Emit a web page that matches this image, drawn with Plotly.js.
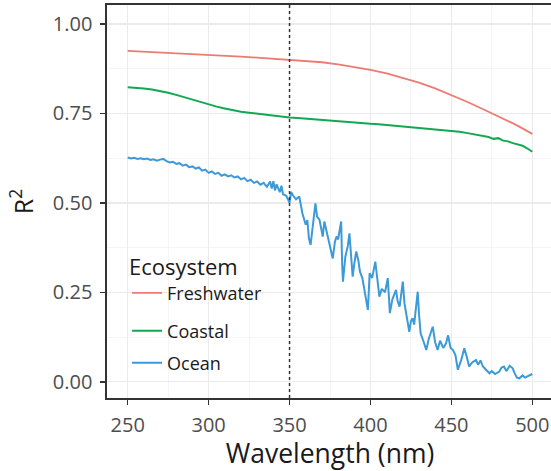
<!DOCTYPE html>
<html>
<head>
<meta charset="utf-8">
<script src="https://cdn.plot.ly/plotly-3.0.1.min.js"></script>
<style>
html,body{margin:0;padding:0;overflow:hidden;background:#fff;}
#chart{width:560px;height:471px;}
</style>
</head>
<body>
<div id="chart"></div>
<script>
// Freshwater (smooth)
const freshWl = [250,260,270,280,290,300,310,320,330,340,350,360,370,380,390,400,410,420,430,440,450,460,470,480,490,500];
const freshR2 = [0.925,0.923,0.921,0.919,0.917,0.915,0.912,0.909,0.906,0.903,0.899,0.896,0.893,0.887,0.880,0.872,0.862,0.850,0.836,0.820,0.802,0.782,0.761,0.740,0.718,0.693];

// Coastal
const coastWl = [250,255,260,265,270,275,280,285,290,295,300,305,310,315,320,325,330,335,340,345,350,355,360,365,370,375,380,385,390,395,400,405,410,415,420,425,430,435,440,445,450,455,460,465,470,473,476,479,482,485,488,491,494,497,500];
const coastR2 = [0.823,0.822,0.820,0.817,0.813,0.808,0.802,0.795,0.788,0.781,0.775,0.769,0.764,0.759,0.755,0.752,0.749,0.746,0.744,0.741,0.739,0.737,0.735,0.734,0.732,0.730,0.728,0.727,0.725,0.723,0.721,0.720,0.718,0.716,0.715,0.713,0.711,0.709,0.707,0.705,0.702,0.699,0.695,0.691,0.686,0.684,0.679,0.681,0.674,0.672,0.667,0.663,0.660,0.652,0.643];

// Ocean (noisy)
const oceanWl = [250,252,254,256,258,260,262,264,266,268,270,272,274,276,278,280,282,284,286,288,290,292,294,296,298,300,302,304,306,308,310,312,314,316,318,320,322,324,326,328,330,332,334,336,338,339,340,341,342,344,345,346,348,349,350,351,352,354,356,358,360,361,362,363,364,366,367,368.5,369.5,370.5,371.5,373,374.7,376,376.7,378,379,380,381.9,382.5,383,384.5,386,387,388,389,390,391.2,392.5,393.5,395,396.5,397.5,398.4,399.5,401,403,404.5,405.5,407,409,410.7,411.5,412,413.5,415.8,416.8,418,419,420,421,422.5,424,425,426,427,429.2,430,431,433,434.5,436,438.5,440,441.5,443,445,446.7,448,449.5,451,452.5,454,456,458,459.5,461,463,465.2,466.5,468,469.5,471,473.5,475,477,479.6,481,482.5,484,486,487.9,489,490.5,492,494,495.5,497,499.2,500];
const oceanR2 = [0.627,0.624,0.626,0.623,0.625,0.622,0.624,0.620,0.622,0.618,0.621,0.623,0.617,0.613,0.615,0.609,0.611,0.604,0.607,0.600,0.602,0.596,0.599,0.590,0.593,0.584,0.588,0.581,0.584,0.576,0.580,0.574,0.577,0.571,0.574,0.566,0.570,0.561,0.565,0.556,0.560,0.551,0.556,0.545,0.560,0.540,0.561,0.535,0.552,0.530,0.548,0.524,0.520,0.508,0.500,0.531,0.522,0.510,0.518,0.470,0.439,0.452,0.400,0.383,0.420,0.499,0.462,0.453,0.430,0.406,0.448,0.420,0.387,0.360,0.345,0.390,0.406,0.398,0.448,0.330,0.280,0.350,0.380,0.415,0.350,0.294,0.330,0.364,0.340,0.308,0.290,0.250,0.230,0.201,0.304,0.290,0.336,0.270,0.238,0.260,0.250,0.290,0.230,0.192,0.230,0.257,0.225,0.210,0.245,0.280,0.220,0.180,0.140,0.170,0.178,0.160,0.252,0.190,0.136,0.110,0.089,0.120,0.154,0.110,0.089,0.115,0.095,0.108,0.130,0.095,0.089,0.075,0.034,0.060,0.094,0.070,0.043,0.055,0.061,0.048,0.060,0.043,0.035,0.024,0.030,0.022,0.029,0.040,0.043,0.030,0.045,0.038,0.025,0.012,0.010,0.018,0.012,0.015,0.020,0.022];

const seriesNames = ['Freshwater','Coastal','Ocean'];
const legendTitle = 'Ecosystem';
const xTicks = [250,300,350,400,450,500];
const yTicks = [0,0.25,0.5,0.75,1];
const yTickLabels = ['0.00','0.25','0.50','0.75','1.00'];
const refWavelength = 350;

const font = '"Open Sans", "Noto Sans", sans-serif';
const legFont = {family: font, size: 18, color: '#1a1a1a'};

const traces = [
  {x: freshWl, y: freshR2, name: seriesNames[0], mode: 'lines', line: {color: '#ee7b72', width: 1.8}, legend: 'legend'},
  {x: coastWl, y: coastR2, name: seriesNames[1], mode: 'lines', line: {color: '#12a852', width: 2}, legend: 'legend2'},
  {x: oceanWl, y: oceanR2, name: seriesNames[2], mode: 'lines', line: {color: '#3d9ad8', width: 2}, legend: 'legend3'}
];

const axisCommon = {
  showline: true, mirror: true, linecolor: '#333333', linewidth: 1.6,
  ticks: 'outside', ticklen: 5, tickwidth: 1.4, tickcolor: '#333333',
  gridcolor: '#ebebeb', gridwidth: 1.2, zeroline: false,
  tickfont: {family: font, size: 20, color: '#4d4d4d'}
};

const legX = 0.045;
const layout = {
  width: 560, height: 471,
  margin: {l: 107, r: 7, t: 5, b: 73},
  paper_bgcolor: '#ffffff', plot_bgcolor: '#ffffff',
  font: {family: font},
  showlegend: true,
  xaxis: Object.assign({}, axisCommon, {
    range: [237.2, 512.8], tickvals: xTicks,
    minor: {dtick: 25, tick0: 225, showgrid: true, gridcolor: '#f2f2f2', gridwidth: 0.8, ticks: ''},
    ticklabelstandoff: 3,
    title: {text: 'Wavelength (nm)', font: {family: font, size: 26.5, color: '#1a1a1a'}, standoff: 3}
  }),
  yaxis: Object.assign({}, axisCommon, {
    range: [-0.045, 1.053], tickvals: yTicks, ticktext: yTickLabels,
    minor: {dtick: 0.25, tick0: 0.125, showgrid: true, gridcolor: '#f2f2f2', gridwidth: 0.8, ticks: ''},
    ticklabelstandoff: 4,
    title: {text: 'R<sup>2</sup>', font: {family: font, size: 25, color: '#1a1a1a'}, standoff: 12}
  }),
  legend: {
    x: legX, y: 0.3866, xanchor: 'left', yanchor: 'top',
    bgcolor: 'rgba(0,0,0,0)', borderwidth: 0, font: legFont,
    title: {text: legendTitle, font: {family: font, size: 22, color: '#1a1a1a'}}
  },
  legend2: {
    x: legX, y: 0.1705, xanchor: 'left', yanchor: 'middle',
    bgcolor: 'rgba(0,0,0,0)', borderwidth: 0, font: legFont
  },
  legend3: {
    x: legX, y: 0.089, xanchor: 'left', yanchor: 'middle',
    bgcolor: 'rgba(0,0,0,0)', borderwidth: 0, font: legFont
  },
  shapes: [
    {type: 'rect', xref: 'paper', yref: 'paper', x0: 0.018, x1: 0.35, y0: 0.048, y1: 0.40,
     fillcolor: '#ffffff', line: {width: 0}, layer: 'between'},
    {type: 'line', xref: 'x', yref: 'paper', x0: refWavelength, x1: refWavelength, y0: 0, y1: 1,
     line: {color: '#333333', width: 1.5, dash: '3px,3px'}}
  ]
};

Plotly.newPlot('chart', traces, layout, {displayModeBar: false, staticPlot: true});
</script>
</body>
</html>
